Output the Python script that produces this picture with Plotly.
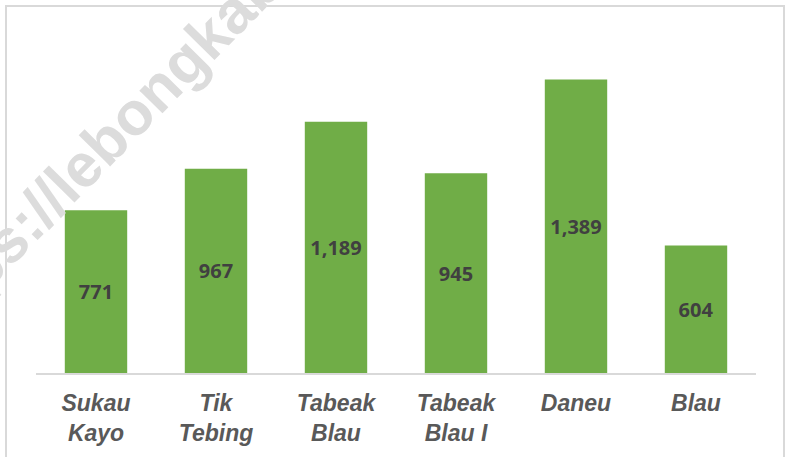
import plotly.graph_objects as go

categories = ["Sukau<br>Kayo", "Tik<br>Tebing", "Tabeak<br>Blau", "Tabeak<br>Blau I", "Daneu", "Blau"]
values = [771, 967, 1189, 945, 1389, 604]
labels = [f"{v:,}" for v in values]

W, H = 785, 457
PL, PR, PT, PB = 36, 756, 35, 373  # plot area in page pixels

fig = go.Figure()
fig.add_trace(go.Bar(
    x=categories, y=values, text=labels,
    textposition="inside", insidetextanchor="middle", textangle=0,
    constraintext="none",
    insidetextfont=dict(family="Open Sans", size=20, color="#404040", weight="bold"),
    marker=dict(color="#70AD47", line=dict(width=0)),
    hoverinfo="skip",
))

fig.update_layout(
    width=W, height=H,
    margin=dict(l=PL, r=W - PR, t=PT, b=H - PB),
    paper_bgcolor="white", plot_bgcolor="white",
    bargap=0.48, showlegend=False,
)
fig.update_xaxes(
    showline=True, linecolor="#d9d9d9", linewidth=2, showgrid=False, ticks="",
    ticklabelstandoff=8,
    tickfont=dict(family="Liberation Sans", size=23, color="#595959", weight="bold", style="italic"),
)
fig.update_yaxes(range=[0, 1600], visible=False, showgrid=False)

pw, ph = PR - PL, PB - PT
def px(x):
    return (x - PL) / pw
def py(y):
    return (PB - y) / ph

# outer chart border
fig.add_shape(type="rect", xref="paper", yref="paper",
              x0=px(6), x1=px(784), y0=py(480), y1=py(6),
              line=dict(color="#d9d9d9", width=2), layer="below")

# watermark
fig.add_annotation(text="https://lebongkab.bps.go.id", xref="paper", yref="paper",
                   x=px(193), y=py(52), showarrow=False,
                   textangle=-45.5, xanchor="center", yanchor="middle",
                   font=dict(family="Liberation Sans", size=61, color="#dcdcdc", weight="bold"))

fig.write_html("out.html", post_script="document.body.style.margin='0';",
               config={"displayModeBar": False})
